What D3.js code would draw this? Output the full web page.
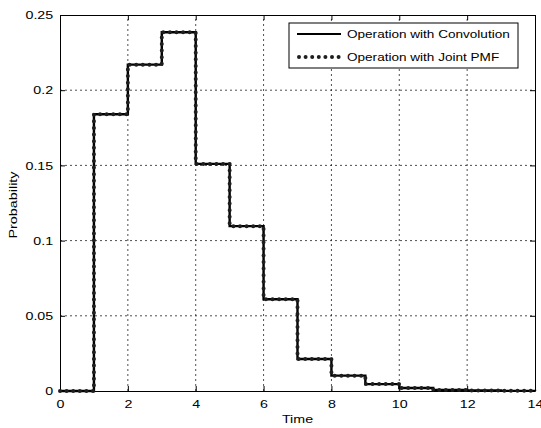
<!DOCTYPE html>
<html>
<head>
<meta charset="utf-8">
<script src="https://cdn.jsdelivr.net/npm/d3@7"></script>
<style>
  body { margin: 0; background: #fff; }
  svg { display: block; font-family: "Liberation Sans", Arial, sans-serif; }
</style>
</head>
<body>
<div id="chart"></div>
<script>
// time steps and probability mass
var times = [0, 1, 2, 3, 4, 5, 6, 7, 8, 9, 10, 11, 12, 13, 14];
var probConv = [0, 0.184, 0.217, 0.2385, 0.151, 0.1096, 0.061, 0.0213, 0.0102, 0.0046, 0.002, 0.0007, 0.0003, 0.0001, 0];
var probJoint = [0, 0.184, 0.217, 0.2385, 0.151, 0.1096, 0.061, 0.0213, 0.0102, 0.0046, 0.002, 0.0007, 0.0003, 0.0001, 0];
var xTicks = [0, 2, 4, 6, 8, 10, 12, 14];
var yTicks = [0, 0.05, 0.1, 0.15, 0.2, 0.25];
var legendLabels = ["Operation with Convolution", "Operation with Joint PMF"];

var W = 541, H = 428;
var margin = {left: 60, right: 6, top: 15, bottom: 37};
var fs = 11.5, sx = 1.24; // the scanned figure is stretched sideways

var svg = d3.select("#chart").append("svg")
    .attr("width", W)
    .attr("height", H);

var x = d3.scaleLinear().domain([0, 14]).range([margin.left, W - margin.right]);
var y = d3.scaleLinear().domain([0, 0.25]).range([H - margin.bottom, margin.top]);

// grid
var grid = svg.append("g").attr("stroke", "#222").attr("stroke-width", 0.8)
    .attr("stroke-dasharray", "2,3");
grid.selectAll(".vg").data(xTicks.slice(1, -1)).enter().append("line")
    .attr("x1", d => x(d)).attr("x2", d => x(d))
    .attr("y1", y(0)).attr("y2", y(0.25));
grid.selectAll(".hg").data(yTicks.slice(1, -1)).enter().append("line")
    .attr("x1", x(0)).attr("x2", x(14))
    .attr("y1", d => y(d)).attr("y2", d => y(d));

// axes with inward ticks, box
var xAxis = svg.append("g")
    .attr("transform", "translate(0," + y(0) + ")")
    .call(d3.axisBottom(x).tickValues(xTicks).tickSizeInner(-5).tickSizeOuter(0).tickPadding(9).tickFormat(d3.format("d")));
svg.append("g")
    .attr("transform", "translate(0," + y(0.25) + ")")
    .call(d3.axisTop(x).tickValues(xTicks).tickSizeInner(-5).tickSizeOuter(0).tickFormat(""));
var yAxis = svg.append("g")
    .attr("transform", "translate(" + x(0) + ",0)")
    .call(d3.axisLeft(y).tickValues(yTicks).tickSizeInner(-5).tickSizeOuter(0).tickPadding(5).tickFormat(d => d === 0 ? "0" : String(+d.toFixed(2))));
svg.append("g")
    .attr("transform", "translate(" + x(14) + ",0)")
    .call(d3.axisRight(y).tickValues(yTicks).tickSizeInner(-5).tickSizeOuter(0).tickFormat(""));

svg.selectAll(".domain").attr("stroke", "#000").attr("stroke-width", 1);
svg.selectAll(".tick line").attr("stroke", "#000");
svg.selectAll(".tick text").attr("font-size", fs).attr("fill", "#000")
    .attr("font-family", "'Liberation Sans', Arial, sans-serif")
    .attr("transform", "scale(" + sx + ",1)");
yAxis.selectAll(".tick text").attr("x", -5.5);

// series
var line = d3.line()
    .x(d => x(d[0]))
    .y(d => y(d[1]))
    .curve(d3.curveStepAfter);

svg.append("path")
    .datum(times.map((t, i) => [t, probConv[i]]))
    .attr("d", line)
    .attr("fill", "none")
    .attr("stroke", "#000")
    .attr("stroke-width", 2.4);

svg.append("path")
    .datum(times.map((t, i) => [t, probJoint[i]]))
    .attr("d", line)
    .attr("fill", "none")
    .attr("stroke", "#1e1e1e")
    .attr("stroke-width", 4)
    .attr("stroke-linecap", "round")
    .attr("stroke-dasharray", "0,6.6");

// labels
svg.append("text")
    .attr("transform", "translate(" + (x(0) + x(14)) / 2 + ",423) scale(" + sx + ",1)")
    .attr("text-anchor", "middle")
    .attr("font-size", fs)
    .text("Time");
svg.append("text")
    .attr("transform", "translate(17,205) rotate(-90) scale(1.25,1)")
    .attr("text-anchor", "middle")
    .attr("font-size", fs)
    .text("Probability");

// legend
var lg = svg.append("g").attr("transform", "translate(289,23)");
lg.append("rect")
    .attr("width", 229).attr("height", 45)
    .attr("fill", "#fff").attr("stroke", "#000").attr("stroke-width", 1);
lg.selectAll(".lab").data(legendLabels).enter().append("text")
    .attr("transform", (d, i) => "translate(58," + (15 + i * 23) + ") scale(1.18,1)")
    .attr("font-size", fs)
    .text(d => d);
lg.append("line")
    .attr("x1", 8).attr("x2", 52).attr("y1", 11).attr("y2", 11)
    .attr("stroke", "#000").attr("stroke-width", 2);
lg.append("line")
    .attr("x1", 10).attr("x2", 52).attr("y1", 34).attr("y2", 34)
    .attr("stroke", "#1e1e1e").attr("stroke-width", 4)
    .attr("stroke-linecap", "round").attr("stroke-dasharray", "0,6.6");
</script>
</body>
</html>
